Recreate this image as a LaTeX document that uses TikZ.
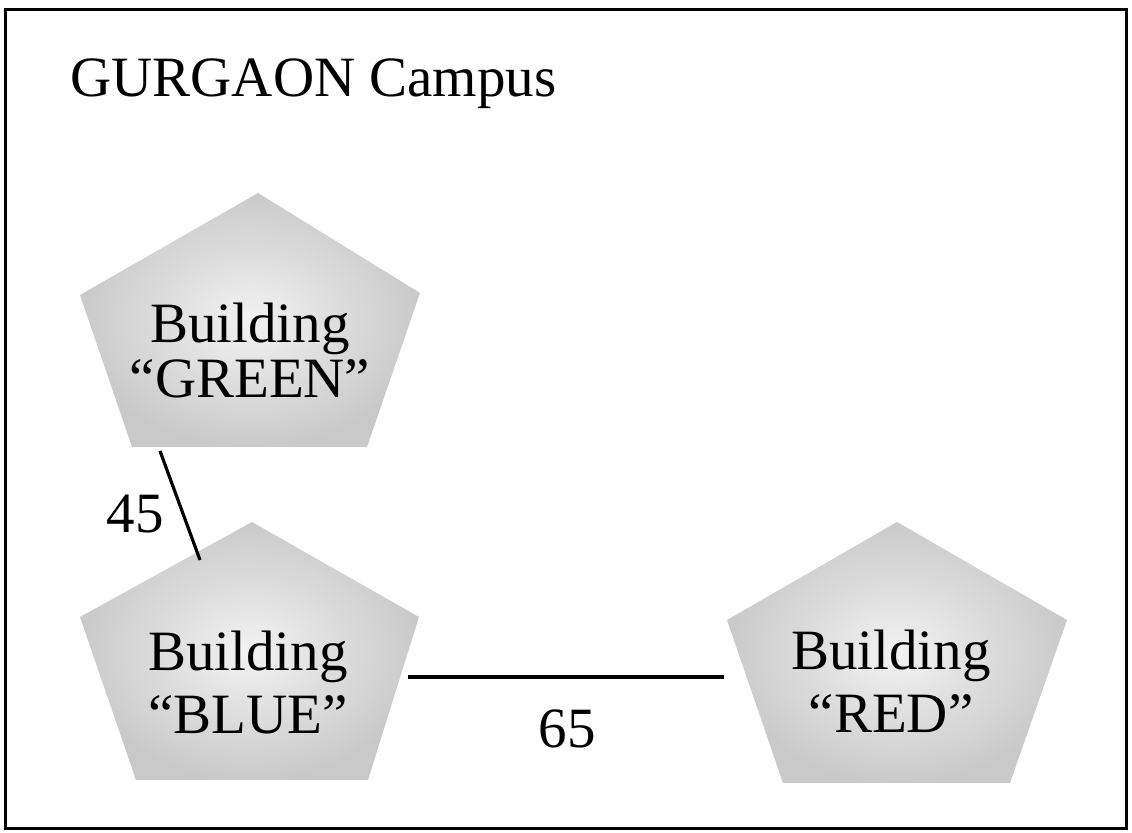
\documentclass[tikz,border=0pt]{standalone}
\usepackage{fontspec}
\setmainfont{Liberation Serif}
\begin{document}
\begin{tikzpicture}[x=0.5pt,y=-0.5pt,
  bldg/.style={inner color=black!5, outer color=black!21},
  lbl/.style={font=\fontsize{28.5}{31.5}\selectfont, inner sep=0pt},
  link/.style={line width=1.6pt},
  frame/.style={line width=1.5pt}]
\useasboundingbox (0,0) rectangle (1132,833);
\draw[frame] (5,10) rectangle (1126,829);
% title
\node[lbl, anchor=base west] (title) at (70,97) {GURGAON Campus};
% buildings
\shade[bldg] (258,193) -- (420,293) -- (367,447) -- (132,447) -- (80,295) -- cycle;
\shade[bldg] (252,522) -- (419,617) -- (368,780) -- (136,780) -- (80,617) -- cycle;
\shade[bldg] (897,522) -- (1067,620) -- (1010,783) -- (783,783) -- (727,620) -- cycle;
\node[lbl, align=center, font=\fontsize{28.5}{27.5}\selectfont] (green) at (250,351) {Building\\“GREEN”};
\node[lbl, align=center] (blue) at (248,683) {Building\\“BLUE”};
\node[lbl, align=center] (red) at (891,681) {Building\\“RED”};
% connectors
\coordinate (g45) at (160,451);
\coordinate (b45) at (200,560);
\coordinate (b65) at (408,677);
\coordinate (r65) at (724,677);
\draw[link] (g45) -- (b45);
\draw[link] (b65) -- (r65);
\node[lbl] (n45) at (135,514) {45};
\node[lbl] (n65) at (567,729) {65};
\end{tikzpicture}
\end{document}
